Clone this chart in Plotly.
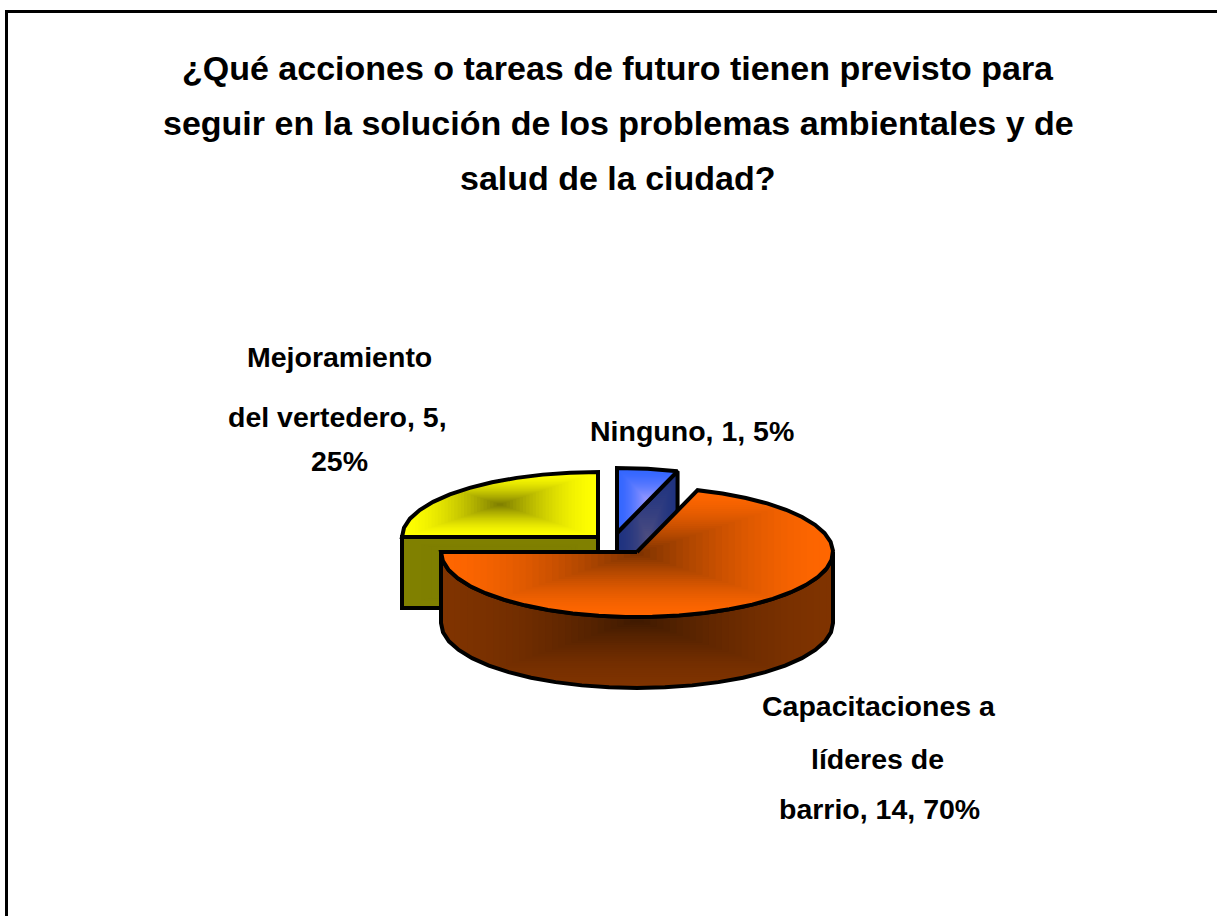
import math
import plotly.graph_objects as go

# ---- data ----
categories = ["Ninguno", "Capacitaciones a líderes de barrio", "Mejoramiento del vertedero"]
values = [1, 14, 5]
percents = [5, 70, 25]
title_lines = [
    "¿Qué acciones o tareas de futuro tienen previsto para",
    "seguir en la solución de los problemas ambientales y de",
    "salud de la ciudad?",
]
label_lines = [
    ["Ninguno, 1, 5%"],
    ["Capacitaciones a", "líderes de", "barrio, 14, 70%"],
    ["Mejoramiento", "del vertedero, 5,", "25%"],
]

# ---- layout / style ----
W, H = 1217, 916
RX, RY, DEPTH = 196, 65, 71
centers = [(617, 533), (637, 552), (598, 537)]
top_cols = [("#3366ff", "#9999ff"), ("#ff6600", "#7f3300"), ("#ffff00", "#808000")]
side_cols = [("#1f3380", "#4d4d80"), ("#7f3300", "#401a00"), ("#808000", "#787800")]
label_pos = [
    [(692, 431)],
    [(879, 706), (877, 759), (879, 809)],
    [(339, 357), (337, 417), (339, 461)],
]
title_x = 618
title_y = [68, 123, 178]
TITLE_SIZE = 34
LABEL_SIZE = 28.5
FONT = "Liberation Sans, Arial, sans-serif"
STEP = 8
BANDS = 30
GAMMA = 1.6


def hex2rgb(c):
    return tuple(int(c[i:i + 2], 16) for i in (1, 3, 5))


def lerp(c0, c1, t):
    a, b = hex2rgb(c0), hex2rgb(c1)
    return "rgb(%d,%d,%d)" % tuple(round(a[i] + (b[i] - a[i]) * t) for i in range(3))


def pt(c, th, dy=0):
    r = math.radians(th)
    return (c[0] + RX * math.sin(r), c[1] - RY * math.cos(r) + dy)


def arc(c, a, b, dy=0):
    n = max(1, int(round(abs(b - a) / STEP)))
    return [pt(c, a + (b - a) * i / n, dy) for i in range(n + 1)]


def clip(poly, x0, x1, y0, y1):
    def run(p, inside, cross):
        out = []
        for i in range(len(p)):
            a, b = p[i - 1], p[i]
            if inside(b):
                if not inside(a):
                    out.append(cross(a, b))
                out.append(b)
            elif inside(a):
                out.append(cross(a, b))
        return out

    def cx(v):
        return lambda a, b: (v, a[1] + (b[1] - a[1]) * (v - a[0]) / (b[0] - a[0]))

    def cy(v):
        return lambda a, b: (a[0] + (b[0] - a[0]) * (v - a[1]) / (b[1] - a[1]), v)

    for inside, cross in [
        (lambda q: q[0] >= x0, cx(x0)),
        (lambda q: q[0] <= x1, cx(x1)),
        (lambda q: q[1] >= y0, cy(y0)),
        (lambda q: q[1] <= y1, cy(y1)),
    ]:
        if not poly:
            return poly
        poly = run(poly, inside, cross)
    return poly


fig = go.Figure()


def xy(poly):
    p = list(poly) + [poly[0]]
    return [q[0] for q in p], [q[1] for q in p]


def shaded(poly, cols, name):
    xs = [q[0] for q in poly]
    ys = [q[1] for q in poly]
    mx, my = (min(xs) + max(xs)) / 2, (min(ys) + max(ys)) / 2
    hx, hy = (max(xs) - min(xs)) / 2, (max(ys) - min(ys)) / 2
    for k in range(BANDS):
        s = 1 - k / BANDS
        part = clip(poly, mx - hx * s - 0.01, mx + hx * s + 0.01, my - hy * s - 0.01, my + hy * s + 0.01)
        if len(part) < 3:
            continue
        X, Y = xy(part)
        fig.add_trace(go.Scatter(x=X, y=Y, mode="none", fill="toself",
                                 fillcolor=lerp(cols[0], cols[1], (k / (BANDS - 1)) ** GAMMA),
                                 hoverinfo="skip", showlegend=False, name=name))
    X, Y = xy(poly)
    fig.add_trace(go.Scatter(x=X, y=Y, mode="lines",
                             line=dict(color="black", width=4, simplify=False),
                             hoverinfo="skip", showlegend=False, name=name))


# slice angles, clockwise from 12 o'clock, come from the values
total = sum(values)
angles = []
a = 0.0
for v in values:
    angles.append((a, a + 360.0 * v / total))
    a += 360.0 * v / total

# paint from back to front: yellow, blue, orange
for i in [2, 0, 1]:
    c = centers[i]
    a0, a1 = angles[i]
    # flat cut faces that turn towards the viewer
    if 180 < a0 <= 270 + 1e-6:
        o = pt(c, a0)
        shaded([c, o, (o[0], o[1] + DEPTH), (c[0], c[1] + DEPTH)], side_cols[i], categories[i])
    if a1 < 180:
        o = pt(c, a1)
        shaded([c, o, (o[0], o[1] + DEPTH), (c[0], c[1] + DEPTH)], side_cols[i], categories[i])
    # outer rim
    w0, w1 = max(a0, 90), min(a1, 270)
    if w1 > w0:
        shaded(arc(c, w0, w1) + arc(c, w1, w0, DEPTH), side_cols[i], categories[i])
    # top face
    shaded([c] + arc(c, a0, a1), top_cols[i], categories[i])

ann = []
for line, y in zip(title_lines, title_y):
    ann.append(dict(x=title_x, y=y, text=f"<b>{line}</b>", font=dict(size=TITLE_SIZE)))
for lines, pos in zip(label_lines, label_pos):
    for line, (x, y) in zip(lines, pos):
        ann.append(dict(x=x, y=y, text=f"<b>{line}</b>", font=dict(size=LABEL_SIZE)))
for d in ann:
    d.update(xref="x", yref="y", showarrow=False, xanchor="center", yanchor="middle")
    d["font"].update(family=FONT, color="black")

fig.update_layout(
    width=W, height=H, margin=dict(l=0, r=0, t=0, b=0), autosize=False,
    paper_bgcolor="white", plot_bgcolor="white", annotations=ann,
    xaxis=dict(range=[0, W], visible=False, fixedrange=True),
    yaxis=dict(range=[H, 0], visible=False, fixedrange=True),
    shapes=[
        dict(type="line", x0=6.5, x1=6.5, y0=10, y1=H, line=dict(color="black", width=3)),
        dict(type="line", x0=5, x1=W, y0=11.5, y1=11.5, line=dict(color="black", width=3)),
    ],
)
fig.write_html("out.html", config={"displayModeBar": False},
               post_script="document.body.style.margin='0';document.body.style.overflow='hidden';")
